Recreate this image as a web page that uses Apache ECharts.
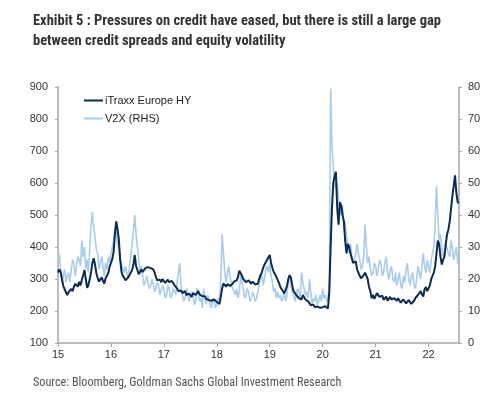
<!DOCTYPE html>
<html>
<head>
<meta charset="utf-8">
<script src="https://cdn.jsdelivr.net/npm/echarts@6/dist/echarts.min.js"></script>
<style>
html,body{margin:0;padding:0;background:#fff;}
#chart{width:500px;height:395px;}
</style>
</head>
<body>
<div id="chart"></div>
<script>
// Time index: year (2-digit, decimal) of the first observation and spacing between observations
const startYear = 15;
const stepYears = 0.025;

// iTraxx Europe HY (left axis, bp) — one row per year
const itraxx = [
  320,330,322,300,278,268,262,250,259,255,269,262,275,285,281,276,291,280,297,312,328,300,272,282,300,322,350,365,345,318,303,292,297,305,294,286,303,310,319,338,
  350,362,384,440,480,455,422,360,322,310,303,296,300,305,312,320,328,345,375,340,328,315,322,330,322,328,334,340,337,342,334,338,330,320,306,296,291,298,290,300,
  295,288,294,298,290,284,294,288,281,276,270,262,256,264,256,252,262,250,247,254,250,244,256,260,250,256,262,252,255,246,240,246,238,232,234,240,232,228,236,230,
  228,234,222,245,270,286,280,276,284,290,278,284,285,292,288,296,306,326,320,310,300,295,290,286,296,290,285,292,290,283,278,285,300,312,320,335,345,352,360,368,
  375,350,335,322,315,306,300,288,275,268,262,255,256,278,300,312,305,280,262,256,250,244,240,246,236,250,245,236,240,230,225,218,215,220,212,208,214,216,210,206,
  212,218,215,210,208,260,400,520,600,620,635,520,470,540,530,500,480,420,380,410,400,380,365,350,345,355,330,320,310,302,300,312,320,318,300,275,262,240,250,238,
  244,256,250,244,240,248,235,238,245,232,238,244,236,230,240,236,232,240,236,226,228,236,234,224,228,234,230,222,226,232,240,246,250,256,262,252,245,268,275,262,
  260,280,300,310,320,340,380,420,410,370,345,360,370,410,440,455,480,520,560,590,624,570,540,537
];

// V2X (right axis) — one row per year
const v2x = [
  26,28,23,19,21,23,19,21,22,19,23,26,25,21,24,27,26,24,32,27,30,23,26,22,30,37,41,36,33,29,28,23,25,27,24,21,25,23,27,25,
  28,30,32,36,34,31,29,26,25,23,22,24,22,20,24,27,31,35,40,34,30,26,22,24,21,18,19,21,19,17,18,20,18.5,16,17,19,18,15,16.5,18,
  17,14,15,18,17,14,15,17,17,15,19,22,25,18,15,13,14,17,16,13,13,16,15,12,13,17,16,13,14,11,17,14,12,15,14,12,11,14,13,11,
  12,14,13,20,34,28,22,19,19,24,21,18,17,16,15,17,14,16,21,19,17,14,15,17,16,13,14,16,15,13,14,16,18,20,22,18,20,23,24,22,
  25,21,19,16,17,14,16,14,15,13,14,16,13,15,19,21,18,16,15,13,15,17,16,14,22,19,17,15,16,14,20,16,12,14,13,15,12,13,15,13,
  17,14,15,13,14,18,79.5,62,55,50,48,50,45,42,40,43,36,38,33,30,28,31,27,25,25,28,31,28,26,23,24,27,37,30,25,27,23,21,22,25,
  24,21,21,26,25,21,22,25,27,22,20,23,24,20,19,22,18,20,22,18,17,21,19,23,25,20,18,21,22,18,17,20,24,22,20,24,28,24,22,26,
  24,22,26,28,30,38,49,40,32,34,30,27,28,31,31,28,27,32,30,26,28,30,25,24
];

const seriesNames = ['iTraxx Europe HY', 'V2X (RHS)'];
const xTickLabels = ['15','16','17','18','19','20','21','22'];
const titleText = 'Exhibit 5 : Pressures on credit have eased, but there is still a large gap\nbetween credit spreads and equity volatility';
const sourceText = 'Source: Bloomberg, Goldman Sachs Global Investment Research';

const toPairs = arr => arr.map((v, i) => [startYear + i * stepYears, v]);

const chart = echarts.init(document.getElementById('chart'), null, {renderer: 'canvas'});
const axisFont = {fontFamily: 'Liberation Sans, Arial, sans-serif', fontSize: 11, color: '#333'};
const axisLine = {show: true, lineStyle: {color: '#a6a6a6', width: 1.5}};

chart.setOption({
  animation: false,
  backgroundColor: '#fff',
  title: [
    {
      text: titleText,
      left: 28, top: 7,
      textStyle: {fontFamily: '"Liberation Sans Narrow", "Roboto Condensed", "DejaVu Sans Condensed", sans-serif',
        fontWeight: 'bold', fontSize: 14.5, lineHeight: 19.5, color: '#333'}
    },
    {
      text: sourceText,
      left: 28, top: 371,
      textStyle: {fontFamily: '"Liberation Sans Narrow", "Roboto Condensed", sans-serif',
        fontWeight: 'normal', fontSize: 12.2, lineHeight: 14, color: '#555'}
    }
  ],
  legend: {
    data: seriesNames,
    orient: 'vertical',
    left: 79, top: 90,
    icon: 'rect',
    itemWidth: 19, itemHeight: 2,
    itemGap: 7,
    textStyle: {fontFamily: 'Liberation Sans, Arial, sans-serif', fontSize: 11, color: '#222', padding: [0,0,0,-3]}
  },
  grid: {left: 58, right: 41, top: 87, bottom: 52, containLabel: false},
  xAxis: {
    type: 'value',
    min: 15, max: 22.575, interval: 1,
    axisLine: axisLine,
    axisTick: {show: true, length: 4, lineStyle: {color: '#a6a6a6'}},
    splitLine: {show: false},
    axisLabel: Object.assign({}, axisFont, {margin: 6,
      showMaxLabel: false,
      formatter: v => { const i = Math.round(v) - 15; return (Math.abs(v - Math.round(v)) < 1e-6 && xTickLabels[i]) ? xTickLabels[i] : ''; }})
  },
  yAxis: [
    {
      type: 'value', min: 100, max: 900, interval: 100, position: 'left',
      axisLine: axisLine,
      axisTick: {show: true, length: 3, lineStyle: {color: '#a6a6a6'}},
      splitLine: {show: false},
      axisLabel: Object.assign({}, axisFont, {margin: 10})
    },
    {
      type: 'value', min: 0, max: 80, interval: 10, position: 'right',
      axisLine: axisLine,
      axisTick: {show: true, length: 3, lineStyle: {color: '#a6a6a6'}},
      splitLine: {show: false},
      axisLabel: Object.assign({}, axisFont, {margin: 9})
    }
  ],
  series: [
    {
      name: seriesNames[1], type: 'line', yAxisIndex: 1,
      data: toPairs(v2x), showSymbol: false, symbol: 'none',
      lineStyle: {color: '#a9cce9', width: 1.6}, itemStyle: {color: '#a9cce9'}
    },
    {
      name: seriesNames[0], type: 'line', yAxisIndex: 0,
      data: toPairs(itraxx), showSymbol: false, symbol: 'none',
      lineStyle: {color: '#0b2b4f', width: 2}, itemStyle: {color: '#0b2b4f'}
    }
  ]
});
</script>
</body>
</html>
